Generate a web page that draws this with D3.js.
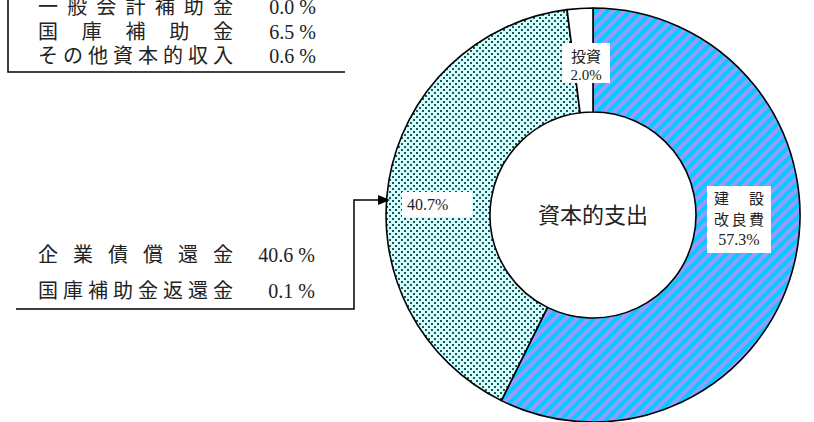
<!DOCTYPE html>
<html>
<head>
<meta charset="utf-8">
<script src="https://cdn.jsdelivr.net/npm/d3@7"></script>
<style>
  html, body { margin: 0; padding: 0; background: #fff; }
  svg { display: block; }
  text { fill: #222; }
</style>
</head>
<body>
<div id="chart"></div>
<script>
// 資本的支出の内訳 (%)
const sliceNames = ['建設改良費', '企業債償還金・国庫補助金返還金', '投資'];
const sliceValues = [57.3, 40.7, 2.0];

// 資本的収入側の注記
const incomeLabels = ['一般会計補助金', '国庫補助金', 'その他資本的収入'];
const incomeValues = [0.0, 6.5, 0.6];

// 償還金の内訳
const repayLabels = ['企業債償還金', '国庫補助金返還金'];
const repayValues = [40.6, 0.1];

const W = 814, H = 422;
const cx = 593, cy = 215;
const outerR = 207, innerR = 103;
const cjk = '"Noto Sans CJK JP", sans-serif';
const mixed = '"Liberation Serif", "Noto Sans CJK JP", serif';

const svg = d3.select('#chart').append('svg')
    .attr('width', W)
    .attr('height', H);

const defs = svg.append('defs');

const stripe = defs.append('pattern')
    .attr('id', 'stripe')
    .attr('patternUnits', 'userSpaceOnUse')
    .attr('width', 8)
    .attr('height', 8)
    .attr('patternTransform', 'rotate(45)');
stripe.append('rect').attr('width', 8).attr('height', 8).attr('fill', '#9999ff');
stripe.append('rect').attr('width', 4).attr('height', 8).attr('fill', '#00ccff');

const dots = defs.append('pattern')
    .attr('id', 'dots')
    .attr('patternUnits', 'userSpaceOnUse')
    .attr('width', 6)
    .attr('height', 6);
dots.append('rect').attr('width', 6).attr('height', 6).attr('fill', '#ccffff');
dots.append('rect').attr('x', 0).attr('y', 0).attr('width', 2).attr('height', 2).attr('fill', '#2f4f4f');
dots.append('rect').attr('x', 3).attr('y', 3).attr('width', 2).attr('height', 2).attr('fill', '#2f4f4f');

const fills = ['url(#stripe)', 'url(#dots)', '#ffffff'];

const pie = d3.pie().sort(null).value((d) => d);
const arc = d3.arc().innerRadius(innerR).outerRadius(outerR);

const donut = svg.append('g')
    .attr('transform', `translate(${cx},${cy})`);

donut.selectAll('path.slice')
    .data(pie(sliceValues))
    .enter()
    .append('path')
    .attr('class', 'slice')
    .attr('d', arc)
    .attr('fill', (d, i) => fills[i])
    .attr('stroke', '#000')
    .attr('stroke-width', 1.6)
    .attr('stroke-linejoin', 'round');

donut.append('text')
    .attr('y', 8)
    .attr('text-anchor', 'middle')
    .style('font-family', cjk)
    .style('font-size', '22px')
    .text('資本的支出');

// ラベル (白地の枠)
function labelBox(x, y, w, h) {
    svg.append('rect')
        .attr('x', x).attr('y', y)
        .attr('width', w).attr('height', h)
        .attr('fill', '#fff');
}

const fmt = d3.format('.1f');

// 投資
labelBox(562, 43, 48, 40);
svg.append('text')
    .attr('x', 586).attr('y', 62)
    .attr('text-anchor', 'middle')
    .style('font-family', cjk).style('font-size', '15px')
    .text(sliceNames[2]);
svg.append('text')
    .attr('x', 586).attr('y', 80)
    .attr('text-anchor', 'middle')
    .style('font-family', mixed).style('font-size', '15px')
    .text(fmt(sliceValues[2]) + '%');

// 建設改良費
labelBox(707, 186, 64, 67);
svg.append('text')
    .attr('x', 739).attr('y', 204)
    .attr('text-anchor', 'middle')
    .style('font-family', cjk).style('font-size', '15px')
    .attr('textLength', 50).attr('lengthAdjust', 'spacing')
    .text(sliceNames[0].slice(0, 2));
svg.append('text')
    .attr('x', 739).attr('y', 225)
    .attr('text-anchor', 'middle')
    .style('font-family', cjk).style('font-size', '15px')
    .attr('textLength', 50).attr('lengthAdjust', 'spacing')
    .text(sliceNames[0].slice(2));
svg.append('text')
    .attr('x', 739).attr('y', 245)
    .attr('text-anchor', 'middle')
    .style('font-family', mixed).style('font-size', '16px')
    .text(fmt(sliceValues[0]) + '%');

// 償還金
labelBox(402, 192, 70, 25);
svg.append('text')
    .attr('x', 407).attr('y', 210)
    .style('font-family', mixed).style('font-size', '16px')
    .text(fmt(sliceValues[1]) + '%');

// 注記の枠線
const lines = svg.append('g')
    .attr('fill', 'none')
    .attr('stroke', '#000')
    .attr('stroke-width', 1.5);

lines.append('path').attr('d', 'M8,0 V72 H345');
lines.append('path').attr('d', 'M16,309 H354 V200 H380');
svg.append('path')
    .attr('d', 'M390,200 L378,195 L378,205 Z')
    .attr('fill', '#000');

// 注記テキスト
function noteRows(labels, values, baselines, valueRight) {
    labels.forEach((label, i) => {
        svg.append('text')
            .attr('x', 38).attr('y', baselines[i])
            .attr('textLength', 195)
            .attr('lengthAdjust', 'spacing')
            .style('font-family', cjk).style('font-size', '20px')
            .text(label);
        svg.append('text')
            .attr('x', valueRight).attr('y', baselines[i])
            .attr('text-anchor', 'end')
            .style('font-family', mixed).style('font-size', '20px')
            .text(fmt(values[i]) + ' %');
    });
}

noteRows(incomeLabels, incomeValues, [14, 39, 63], 316);
noteRows(repayLabels, repayValues, [262, 298], 315);
</script>
</body>
</html>
